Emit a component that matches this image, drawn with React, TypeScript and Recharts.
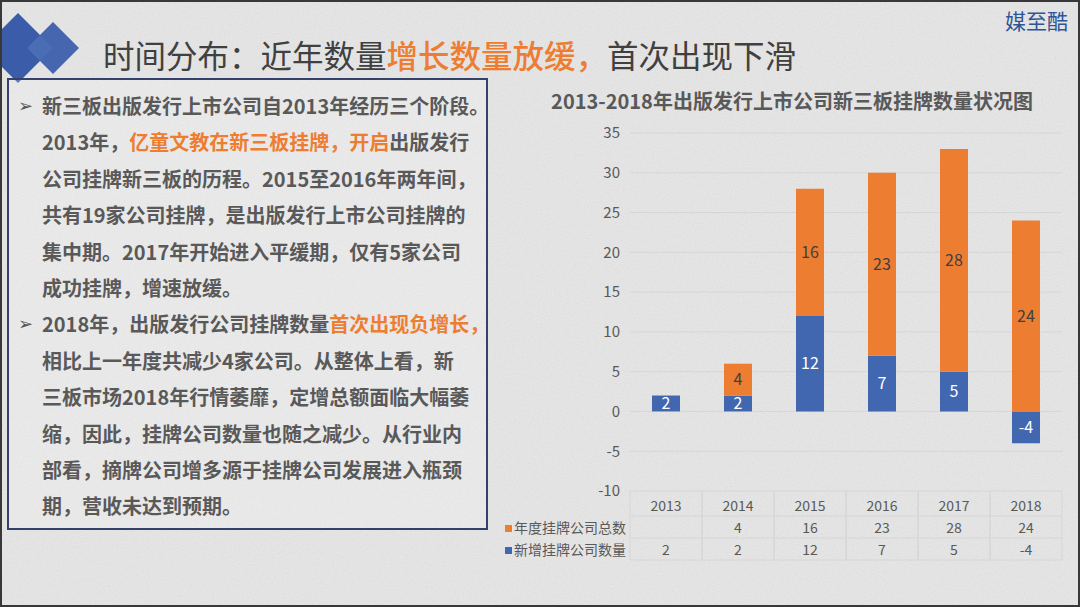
import React from 'react';
import { BarChart, Bar, XAxis, YAxis, CartesianGrid, LabelList } from 'recharts';

const years = ['2013', '2014', '2015', '2016', '2017', '2018'];
const totalListed: (number | null)[] = [null, 4, 16, 23, 28, 24];
const newListed: number[] = [2, 2, 12, 7, 5, -4];
const yTicks = [-10, -5, 0, 5, 10, 15, 20, 25, 30, 35];
const seriesNames = ['年度挂牌公司总数', '新增挂牌公司数量'];
const chartTitle = '2013-2018年出版发行上市公司新三板挂牌数量状况图';

const ORANGE = '#ED7D31';
const BLUE = '#4267B1';
const GRAY = '#595959';
const FONT = "'Noto Sans CJK SC', 'Noto Sans', sans-serif";

const data = years.map((y, i) => ({ year: y, total: totalListed[i], added: newListed[i] }));

const TableTick = (props: any) => {
  const { x, y, payload, index } = props;
  const half = payload && payload.offset ? payload.offset : (props.width || 432) / years.length / 2;
  const t = totalListed[index];
  const a = newListed[index];
  const line = '#d6d6d6';
  return (
    <g>
      <line x1={x - half} x2={x - half} y1={y} y2={y + 69} stroke={line} strokeWidth={1} />
      <line x1={x + half} x2={x + half} y1={y} y2={y + 69} stroke={line} strokeWidth={1} />
      <line x1={x - half} x2={x + half} y1={y + 25} y2={y + 25} stroke={line} strokeWidth={1} />
      <line x1={x - half} x2={x + half} y1={y + 47} y2={y + 47} stroke={line} strokeWidth={1} />
      <line x1={x - half} x2={x + half} y1={y + 69} y2={y + 69} stroke={line} strokeWidth={1} />
      <text x={x} y={y + 14} textAnchor="middle" dominantBaseline="central" fill={GRAY} fontSize={14} fontFamily={FONT}>{payload.value}</text>
      <text x={x} y={y + 36} textAnchor="middle" dominantBaseline="central" fill={GRAY} fontSize={14} fontFamily={FONT}>{t === null ? '' : t}</text>
      <text x={x} y={y + 58} textAnchor="middle" dominantBaseline="central" fill={GRAY} fontSize={14} fontFamily={FONT}>{a}</text>
    </g>
  );
};

const Orange = ({ children }: { children: React.ReactNode }) => <span style={{ color: ORANGE }}>{children}</span>;

const bodyLines: React.ReactNode[] = [
  <>新三板出版发行上市公司自2013年经历三个阶段。</>,
  <>2013年，<Orange>亿童文教在新三板挂牌，开启</Orange>出版发行</>,
  <>公司挂牌新三板的历程。2015至2016年两年间，</>,
  <>共有19家公司挂牌，是出版发行上市公司挂牌的</>,
  <>集中期。2017年开始进入平缓期，仅有5家公司</>,
  <>成功挂牌，增速放缓。</>,
  <>2018年，出版发行公司挂牌数量<Orange>首次出现负增长，</Orange></>,
  <>相比上一年度共减少4家公司。从整体上看，新</>,
  <>三板市场2018年行情萎靡，定增总额面临大幅萎</>,
  <>缩，因此，挂牌公司数量也随之减少。从行业内</>,
  <>部看，摘牌公司增多源于挂牌公司发展进入瓶颈</>,
  <>期，营收未达到预期。</>,
];
const bulletLines = [0, 6];

export default function App() {
  return (
    <div style={{ position: 'absolute', left: 0, top: 0, width: 1080, height: 607, background: '#e7e7e7', overflow: 'hidden', fontFamily: FONT, boxSizing: 'border-box', border: '2px solid #383838' }}>
      {/* paper texture */}
      <svg width={1080} height={607} style={{ position: 'absolute', left: -2, top: -2, opacity: 0.18 }}>
        <filter id="noise">
          <feTurbulence type="fractalNoise" baseFrequency="0.9" numOctaves={2} seed={3} />
          <feColorMatrix type="saturate" values="0" />
        </filter>
        <rect width={1080} height={607} filter="url(#noise)" />
      </svg>
      {/* diamonds */}
      <svg width={100} height={100} style={{ position: 'absolute', left: -2, top: -2 }}>
        <polygon points="18,13 53,48 18,83 -17,48" fill="#3A5CA9" />
        <polygon points="53,22 79,48 53,74 27,48" fill="#3D5FAC" opacity={0.95} />
        <polygon points="40,35 53,48 40,61 27,48" fill="#4A6DB6" />
      </svg>
      {/* title */}
      <div style={{ position: 'absolute', left: 101, top: 31, fontSize: 31.5, lineHeight: '42px', color: '#404040', whiteSpace: 'nowrap' }}>
        时间分布：近年数量<span style={{ color: ORANGE, fontWeight: 500 }}>增长数量放缓，</span>首次出现下滑
      </div>
      {/* watermark */}
      <div style={{ position: 'absolute', right: 10, top: 4, fontSize: 21, color: '#2F5597', lineHeight: '28px' }}>媒至酷</div>
      {/* text box */}
      <div style={{ position: 'absolute', left: 5, top: 76, width: 481, height: 452, boxSizing: 'border-box', border: '2px solid #36416B', background: 'rgba(255,255,255,0.2)' }}>
        <div style={{ position: 'absolute', left: 0, top: 8, width: 477 }}>
          {bodyLines.map((l, i) => (
            <div key={i} style={{ position: 'relative', height: 36.4, lineHeight: '36.4px', paddingLeft: 33, fontSize: 20, fontWeight: 700, color: GRAY, whiteSpace: 'nowrap' }}>
              {bulletLines.includes(i) && (
                <span style={{ position: 'absolute', left: 9, top: 0, fontSize: 18, fontWeight: 400, color: '#555', fontFamily: "'DejaVu Sans', sans-serif" }}>➢</span>
              )}
              {l}
            </div>
          ))}
        </div>
      </div>
      {/* chart title */}
      <div style={{ position: 'absolute', left: 500, width: 580, top: 86, textAlign: 'center', fontSize: 20, fontWeight: 700, color: GRAY, lineHeight: '26px', whiteSpace: 'nowrap' }}>
        {chartTitle}
      </div>
      {/* chart */}
      <div style={{ position: 'absolute', left: -2, top: -2 }}>
        <BarChart width={1080} height={607} data={data} stackOffset="sign" margin={{ top: 133, right: 18, bottom: 46, left: 600 }}>
          <CartesianGrid horizontal={true} vertical={false} stroke="#d6d6d6" />
          <YAxis type="number" domain={[-10, 35]} ticks={yTicks} axisLine={false} tickLine={false} tickSize={0} tickMargin={10} width={30} interval={0}
            tick={{ fill: GRAY, fontSize: 15, fontFamily: FONT }} />
          <XAxis dataKey="year" axisLine={false} tickLine={false} tickSize={0} tickMargin={0} height={70} interval={0} tick={<TableTick />} />
          <Bar dataKey="added" name={seriesNames[1]} stackId="a" fill={BLUE} barSize={28} isAnimationActive={false}>
            <LabelList dataKey="added" position="center" fill="#ffffff" fontSize={16} fontFamily={FONT} />
          </Bar>
          <Bar dataKey="total" name={seriesNames[0]} stackId="a" fill={ORANGE} barSize={28} isAnimationActive={false}>
            <LabelList dataKey="total" position="center" fill="#404040" fontSize={16} fontFamily={FONT} />
          </Bar>
        </BarChart>
      </div>
      {/* data table row headers (legend keys) */}
      {seriesNames.map((n, i) => (
        <div key={n} style={{ position: 'absolute', right: 1080 - 628, top: 516 + i * 22 - 2, height: 22, lineHeight: '22px', fontSize: 14, color: GRAY, whiteSpace: 'nowrap' }}>
          <span style={{ display: 'inline-block', width: 7, height: 7, background: i === 0 ? ORANGE : BLUE, marginRight: 2, verticalAlign: 'middle', position: 'relative', top: -1 }} />
          {n}
        </div>
      ))}
    </div>
  );
}
